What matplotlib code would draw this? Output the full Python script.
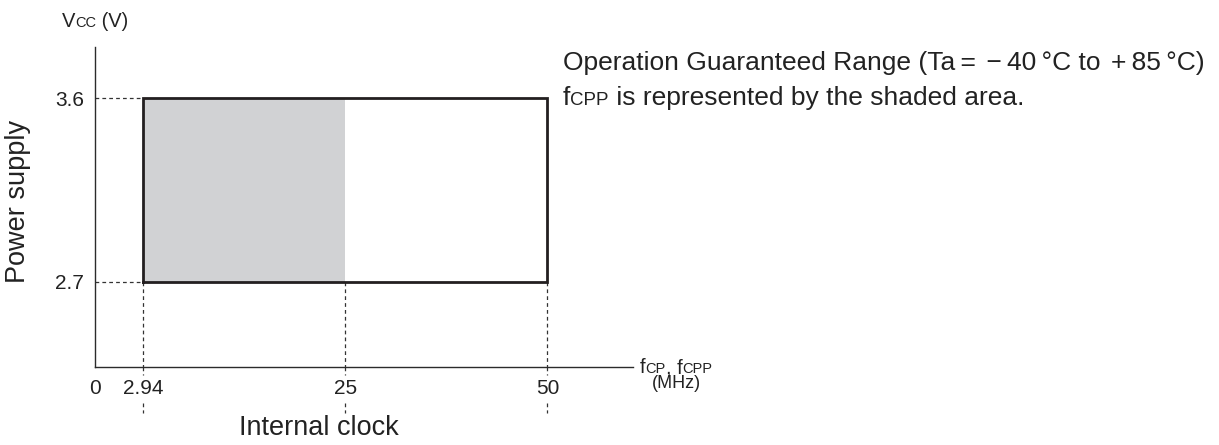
import numpy as np
import matplotlib
matplotlib.use("Agg")
import matplotlib.pyplot as plt
import matplotlib.transforms as mtransforms

plt.rcParams['font.family'] = ['Liberation Sans', 'DejaVu Sans']

# operating range
f_min = 2.94      # MHz
f_cpp_max = 25    # MHz, upper limit of fCPP
f_cp_max = 50     # MHz
vcc_min = 2.7     # V
vcc_max = 3.6     # V

x_ticks = [0, f_min, f_cpp_max, f_cp_max]
x_tick_labels = ["0", "2.94", "25", "50"]
y_ticks = [vcc_min, vcc_max]
y_tick_labels = ["2.7", "3.6"]

# the clock axis is drawn schematically (not to scale)
x_knots = [0, f_min, f_cpp_max, f_cp_max, 60]
x_pos = [0, 48, 250, 452, 542]


def fwd(x):
    x = np.asarray(x, dtype=float)
    return np.interp(x, x_knots, x_pos, left=np.nan, right=np.nan)


def inv(p):
    p = np.asarray(p, dtype=float)
    return np.interp(p, x_pos, x_knots, left=np.nan, right=np.nan)


W, H = 1219, 445
fig = plt.figure(figsize=(W / 100, H / 100), dpi=100)


def px(x, y):
    return x / W, 1 - y / H


ax_l, ax_r, ax_t, ax_b = 95, 633, 47, 367
ax = fig.add_axes([ax_l / W, 1 - ax_b / H, (ax_r - ax_l) / W, (ax_b - ax_t) / H])
ax.set_xscale('function', functions=(fwd, inv))
ax.set_xlim(0, 59.5)
ax.set_ylim(2.284, 3.85)

for s in ['top', 'right']:
    ax.spines[s].set_visible(False)
for s in ['left', 'bottom']:
    ax.spines[s].set_linewidth(1.0)
    ax.spines[s].set_color('#2b2b2b')

ax.set_xticks(x_ticks)
ax.set_xticklabels(x_tick_labels)
ax.set_yticks(y_ticks)
ax.set_yticklabels(y_tick_labels)
ax.tick_params(length=0, labelsize=15, colors='#222222', pad=8)
ax.tick_params(axis='x', pad=9)
ax.xaxis.set_minor_locator(plt.NullLocator())
ax.yaxis.set_minor_locator(plt.NullLocator())

dash = dict(color='#333333', lw=0.9, linestyle=(0, (3, 2.5)))

# guide lines to the axes
for v in y_ticks:
    ax.plot([0, f_min], [v, v], **dash)
trans = mtransforms.blended_transform_factory(ax.transData, ax.transAxes)
for f in [f_min, f_cpp_max, f_cp_max]:
    ax.plot([f, f], [vcc_min, ax.get_ylim()[0]], **dash)
    ax.plot([f, f], [0, -0.025], transform=trans, clip_on=False, **dash)
    ax.plot([f, f], [-0.113, -0.143], transform=trans, clip_on=False, **dash)

# fCPP shaded area and the full operating range
ax.fill_between([f_min, f_cpp_max], vcc_min, vcc_max, color='#d1d2d4', lw=0, zorder=2)
ax.plot([f_min, f_cp_max, f_cp_max, f_min, f_min],
        [vcc_min, vcc_min, vcc_max, vcc_max, vcc_min],
        color='#231f20', lw=2.0, solid_joinstyle='miter', zorder=3)

renderer = fig.canvas.get_renderer()


def rich(x, y, parts):
    # place text pieces one after another (for small-cap subscripts)
    for s, size in parts:
        t = fig.text(*px(x, y), s, fontsize=size, va='baseline', ha='left', color='#222222')
        x += t.get_window_extent(renderer).width


rich(62, 27, [("V", 14.5), ("CC", 10.5), (" (V)", 14.5)])
rich(563, 70, [("Operation Guaranteed Range (Ta\u2009=\u2009\u2009−\u200940\u2009°C to\u2009\u2009+\u200985\u2009°C)", 19)])
rich(563, 105, [("f", 19), ("CPP", 13.5), (" is represented by the shaded area.", 19)])
rich(640, 373, [("f", 14.5), ("CP", 10.5), (", f", 14.5), ("CPP", 10.5)])
fig.text(*px(676, 388), "(MHz)", fontsize=13, ha='center', va='baseline', color='#222222')

fig.text(*px(18, 201), "Power supply", fontsize=19.5, rotation=90,
         ha='center', va='center', color='#222222')
fig.text(*px(319, 428), "Internal clock", fontsize=19.5,
         ha='center', va='center', color='#222222')

fig.savefig("out.png", dpi=100)
